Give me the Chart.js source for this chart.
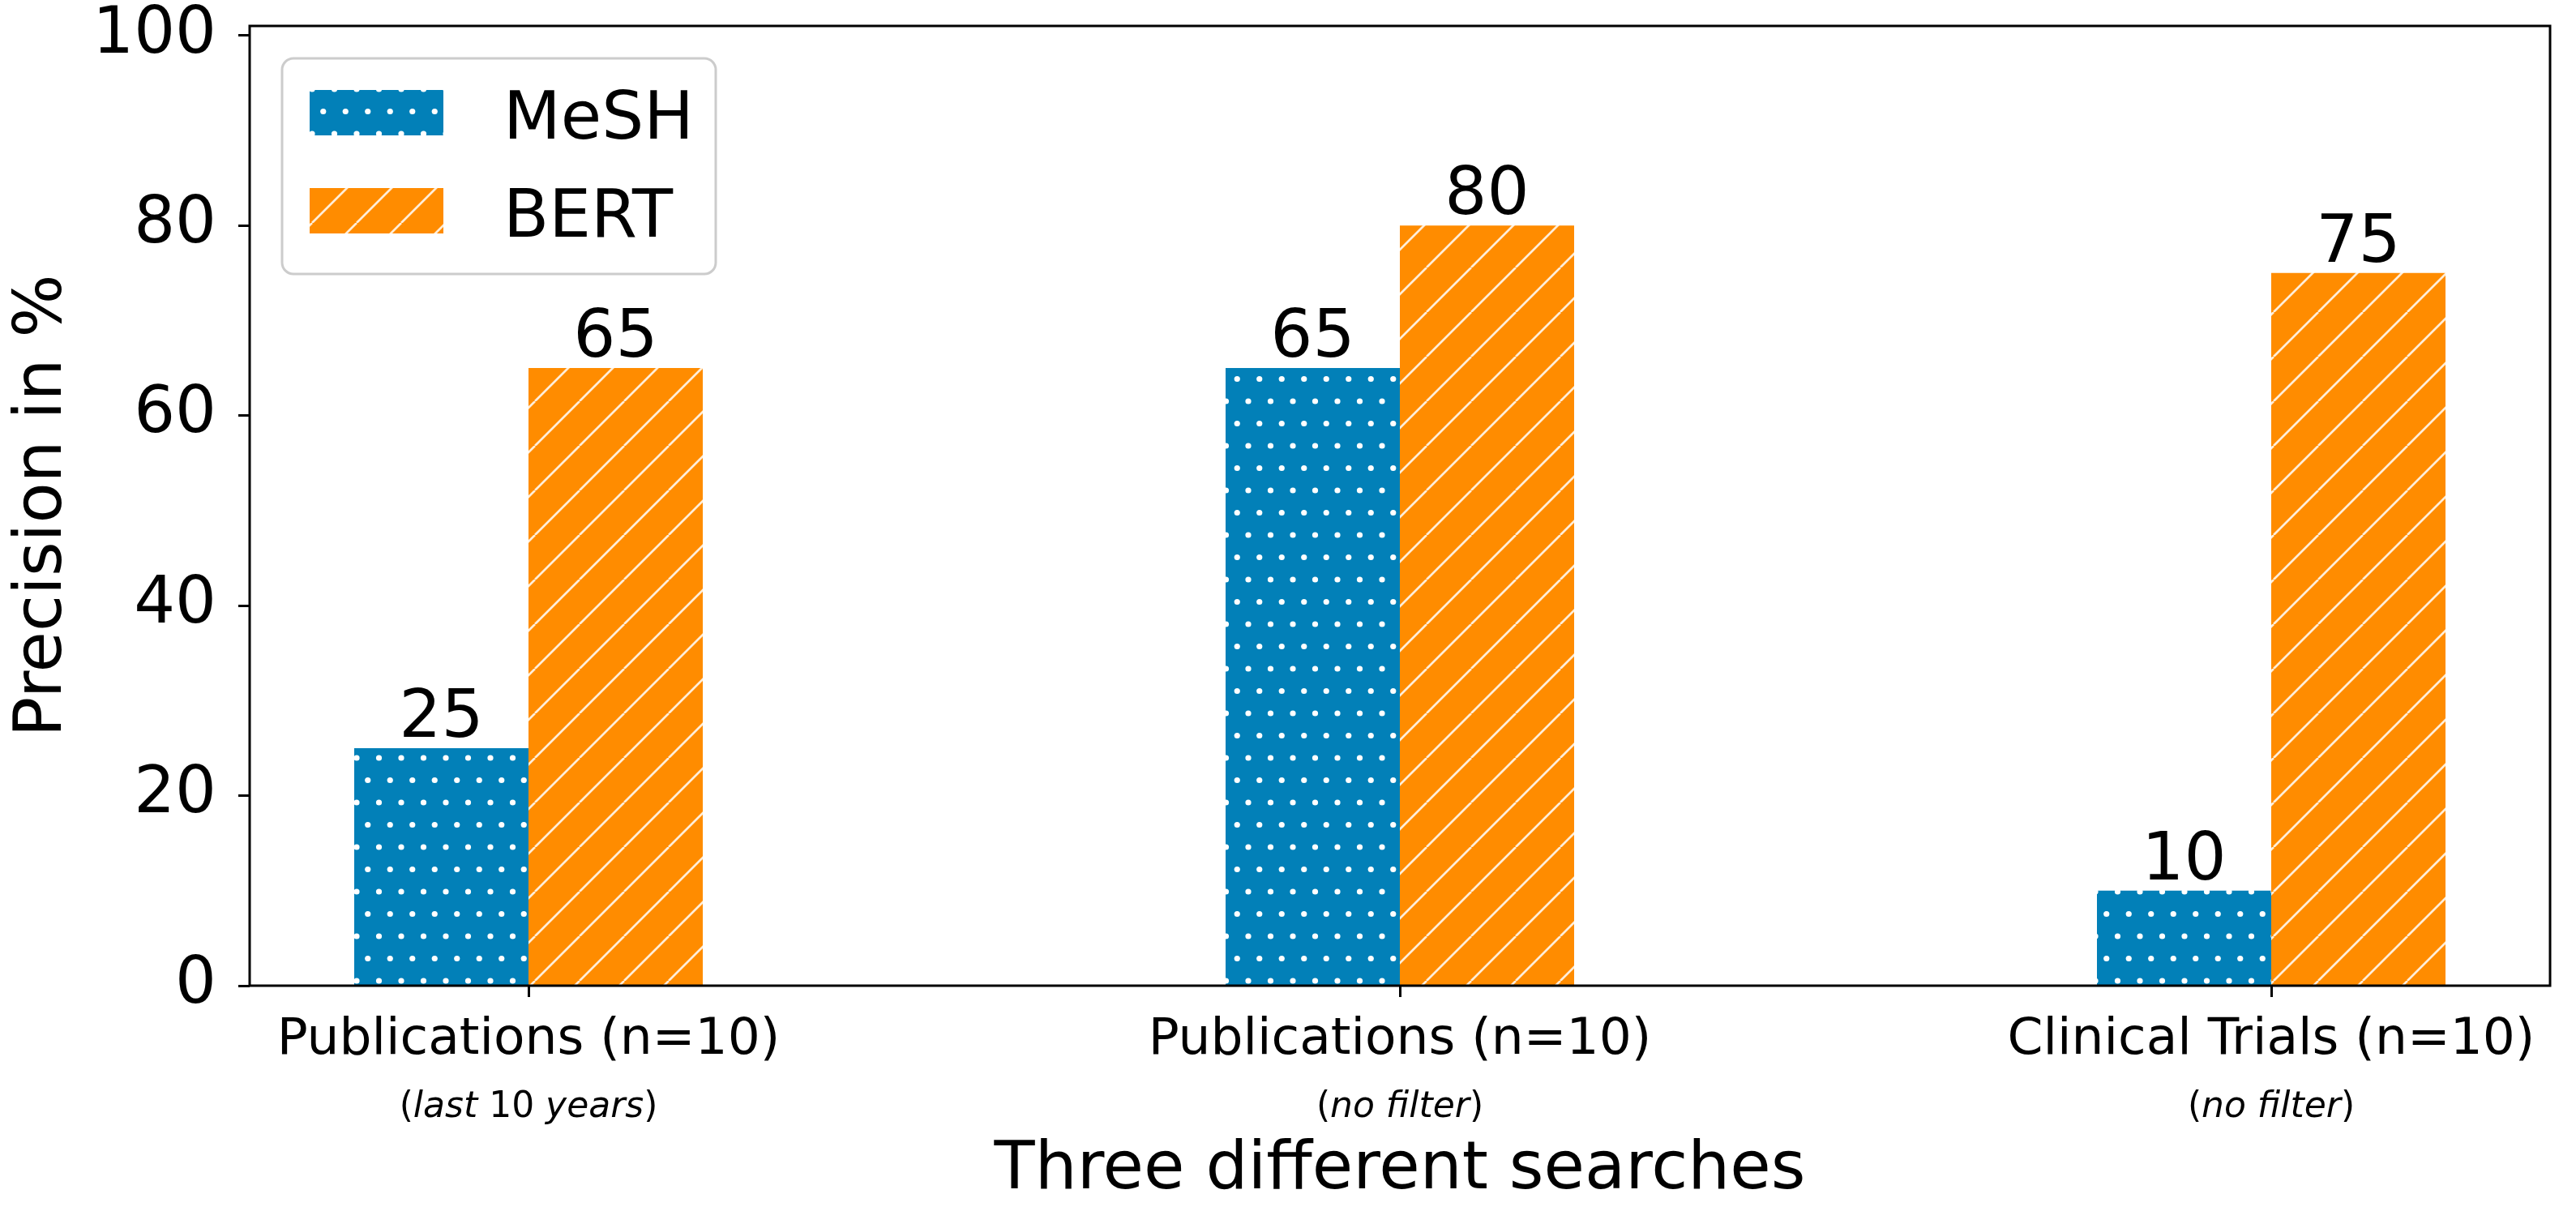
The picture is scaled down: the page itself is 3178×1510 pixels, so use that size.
<!DOCTYPE html>
<html>
<head>
<meta charset="utf-8">
<script src="https://cdn.jsdelivr.net/npm/chart.js@4.4.1/dist/chart.umd.min.js"></script>
<style>
  html, body { margin: 0; padding: 0; background: #fff; }
  canvas { display: block; }
</style>
</head>
<body>
<canvas id="chart" width="3178" height="1510"></canvas>
<script>
// data
const categoryPositions = [0, 1, 2];
const categoryLabels = ['Publications (n=10)', 'Publications (n=10)', 'Clinical Trials (n=10)'];
// second line of each tick label: [text, italic]
const categoryNotes = [
  [['(', false], ['last', true], [' 10 ', false], ['years', true], [')', false]],
  [['(', false], ['no filter', true], [')', false]],
  [['(', false], ['no filter', true], [')', false]]
];
const seriesNames = ['MeSH', 'BERT'];
const meshValues = [25, 65, 10];
const bertValues = [65, 80, 75];
const yTicks = [0, 20, 40, 60, 80, 100];

const FONT = '"DejaVu Sans", sans-serif';
const BLUE = '#0280b8';
const ORANGE = '#ff8c00';

const canvas = document.getElementById('chart');
const ctx = canvas.getContext('2d');

function dotPattern(bg) {
  const c = document.createElement('canvas');
  c.width = 55; c.height = 55;
  const g = c.getContext('2d');
  g.fillStyle = bg;
  g.fillRect(0, 0, 55, 55);
  g.fillStyle = '#fff';
  const pts = [[0, 0], [27.5, 0], [13.75, 27.5], [41.25, 27.5]];
  for (const [x, y] of pts) {
    for (const dx of [-55, 0, 55]) {
      for (const dy of [-55, 0, 55]) {
        g.beginPath();
        g.arc(x + dx, y + dy, 3.6, 0, Math.PI * 2);
        g.fill();
      }
    }
  }
  return ctx.createPattern(c, 'repeat');
}

function hatchPattern(bg) {
  const c = document.createElement('canvas');
  c.width = 55; c.height = 55;
  const g = c.getContext('2d');
  g.fillStyle = bg;
  g.fillRect(0, 0, 55, 55);
  g.strokeStyle = 'rgba(255,255,255,0.85)';
  g.lineWidth = 2.7;
  g.beginPath();
  for (const o of [-55, 0, 55]) {
    g.moveTo(o, 55);
    g.lineTo(o + 55, 0);
  }
  g.stroke();
  return ctx.createPattern(c, 'repeat');
}

const decorations = {
  id: 'decorations',
  beforeDraw(chart) {
    const c = chart.ctx;
    c.save();
    c.fillStyle = '#fff';
    c.fillRect(0, 0, chart.width, chart.height);
    c.restore();
  },
  afterDatasetsDraw(chart) {
    const c = chart.ctx;
    const area = chart.chartArea;
    const xScale = chart.scales.x;
    c.save();

    // frame
    c.strokeStyle = '#000';
    c.lineWidth = 3;
    c.strokeRect(area.left, area.top, area.right - area.left, area.bottom - area.top);

    // value labels
    c.fillStyle = '#000';
    c.font = '82px ' + FONT;
    c.textAlign = 'center';
    c.textBaseline = 'alphabetic';
    chart.data.datasets.forEach((ds, di) => {
      chart.getDatasetMeta(di).data.forEach((bar, i) => {
        c.fillText(String(ds.data[i].y), bar.x, bar.y - 14);
      });
    });

    // category labels, two lines
    categoryPositions.forEach((pos, i) => {
      const x = xScale.getPixelForValue(pos);
      c.font = '63px ' + FONT;
      c.textAlign = 'center';
      c.fillText(categoryLabels[i], x, area.bottom + 84);

      const parts = categoryNotes[i];
      const fonts = parts.map(p => (p[1] ? 'italic ' : '') + '44px ' + FONT);
      const widths = parts.map((p, k) => { c.font = fonts[k]; return c.measureText(p[0]).width; });
      let cx = x - widths.reduce((a, b) => a + b, 0) / 2;
      c.textAlign = 'left';
      parts.forEach((p, k) => {
        c.font = fonts[k];
        c.fillText(p[0], cx, area.bottom + 162);
        cx += widths[k];
      });
    });

    // legend
    const bx = area.left + 40, by = area.top + 40, bw = 535, bh = 266;
    c.beginPath();
    c.roundRect(bx, by, bw, bh, 14);
    c.fillStyle = 'rgba(255,255,255,0.85)';
    c.fill();
    c.strokeStyle = '#cccccc';
    c.lineWidth = 3;
    c.stroke();
    chart.data.datasets.forEach((ds, di) => {
      const py = by + 39 + di * 121;
      c.fillStyle = ds.backgroundColor;
      c.fillRect(bx + 34, py, 165, 56);
      c.fillStyle = '#000';
      c.font = '82px ' + FONT;
      c.textAlign = 'left';
      c.fillText(ds.label, bx + 273, py + 60);
    });

    c.restore();
  }
};

new Chart(ctx, {
  type: 'bar',
  data: {
    datasets: [
      {
        label: seriesNames[0],
        data: categoryPositions.map((x, i) => ({ x, y: meshValues[i] })),
        backgroundColor: dotPattern(BLUE),
        borderWidth: 0
      },
      {
        label: seriesNames[1],
        data: categoryPositions.map((x, i) => ({ x, y: bertValues[i] })),
        backgroundColor: hatchPattern(ORANGE),
        borderWidth: 0
      }
    ]
  },
  options: {
    responsive: false,
    animation: false,
    devicePixelRatio: 1,
    layout: { padding: { left: 0, right: 32, top: 32, bottom: 0 } },
    categoryPercentage: 0.4,
    barPercentage: 1.0,
    plugins: {
      legend: { display: false },
      tooltip: { enabled: false }
    },
    scales: {
      x: {
        type: 'linear',
        min: -0.32,
        max: 2.32,
        bounds: 'data',
        offset: false,
        afterBuildTicks: axis => { axis.ticks = categoryPositions.map(v => ({ value: v })); },
        afterFit: axis => {
          axis.height = 294;
          axis.paddingLeft = 0; axis.paddingRight = 0;
        },
        ticks: { display: false },
        grid: { offset: false, drawOnChartArea: false, drawTicks: true, tickLength: 14, tickWidth: 3, tickColor: '#000' },
        border: { display: false },
        title: {
          display: true,
          text: 'Three different searches',
          color: '#000',
          font: { family: FONT, size: 82 },
          padding: { top: 0, bottom: 16 }
        }
      },
      y: {
        min: 0,
        max: 101,
        bounds: 'data',
        afterBuildTicks: axis => { axis.ticks = yTicks.map(v => ({ value: v })); },
        afterFit: axis => {
          axis.width = 308;
          axis.paddingTop = 0; axis.paddingBottom = 0;
        },
        ticks: { color: '#000', font: { family: FONT, size: 80 }, padding: 27 },
        grid: { drawOnChartArea: false, drawTicks: true, tickLength: 14, tickWidth: 3, tickColor: '#000' },
        border: { display: false },
        title: {
          display: true,
          text: 'Precision in %',
          color: '#000',
          font: { family: FONT, size: 82 },
          padding: { top: 5, bottom: 0 }
        }
      }
    }
  },
  plugins: [decorations]
});
</script>
</body>
</html>
